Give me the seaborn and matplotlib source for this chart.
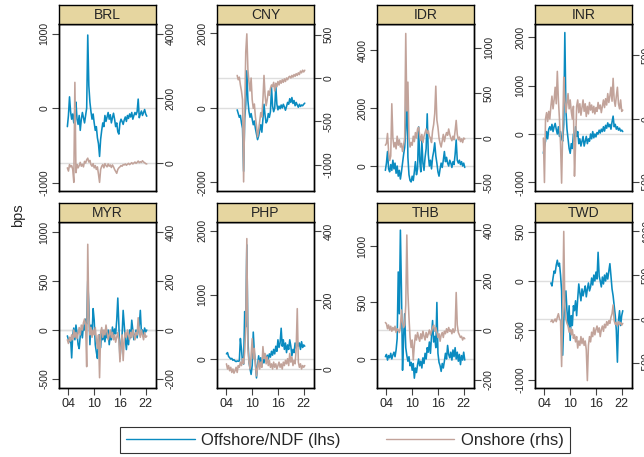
import numpy as np
import pandas as pd
import matplotlib
matplotlib.use("Agg")
import matplotlib.pyplot as plt
import matplotlib.transforms as mtransforms
from matplotlib.lines import Line2D
import seaborn as sns

sns.set_style("white")
plt.rcParams['font.family'] = ['Liberation Sans', 'DejaVu Sans']

# ---------------------------------------------------------------- data
currencies = ["BRL", "CNY", "IDR", "INR", "MYR", "PHP", "THB", "TWD"]
step = 0.25  # quarterly observations
first_obs = {"BRL": 2003.75, "CNY": 2006.5, "IDR": 2003.75, "INR": 2003.75,
             "MYR": 2003.75, "PHP": 2004.0, "THB": 2003.75, "TWD": 2005.5}

brl_offshore = [-250, -100, 150, -50, -150, -80, -200, -30, 80, -150, -220, -100,
                -300, -150, -60, -130, -200, -100, 0, 980, 300, 80, -50, -150,
                -80, -200, -300, -250, -400, -480, -650, -420, -300, -200, -250, -100,
                -180, -120, -60, -150, -90, -200, -130, -70, -150, -250, -200, -320,
                -350, -200, -150, -180, -220, -160, -120, -180, -100, -140, -80, -120,
                -60, -150, -100, -60, -90, -50, 120, -130, -80, -40, -100, -60,
                -20, -80, -110]
brl_onshore = [-150, -250, -50, -120, -80, -200, -600, 2500, -300, -50, -150, -80,
               20, -100, -40, -120, 50, 0, 100, 150, 30, 80, -50, -100,
               -20, -150, -80, -200, -120, -350, -600, -200, -100, -50, -150, -20,
               -80, -120, -30, -100, -60, -140, -60, -120, -200, -260, -320, -200,
               -150, -120, -80, -100, -50, -60, -30, -70, -40, -10, -50, -20,
               10, -30, 0, 30, -10, 20, 60, 10, 40, 20, 70, 30,
               10, -20, -30]

cny_offshore = [-50, -150, -250, -200, -400, -550, -1700, -300, 100, 1000, 200, -100,
                -250, -150, -300, -450, -350, -550, -700, -850, -750, -600, -450, -650,
                -300, 100, -200, -400, -350, -150, -250, -100, 550, 50, -100, 0,
                600, 100, -50, 50, -20, 80, 0, 100, 30, -60, 40, 150,
                100, 250, 150, 280, 120, 200, 60, 150, 80, 20, 100, 40,
                80, 60, 100, 130]
cny_onshore = [30, -20, 10, -80, -150, -250, -1200, -400, 300, 510, 100, -50,
               -150, 0, -250, -350, -300, -450, -550, -680, -600, -500, -400, -450,
               -250, 30, -200, -320, -250, -150, -200, -120, -80, -100, -50, -150,
               -60, -100, -40, -80, -30, -60, -20, -50, -10, -40, 0, -20,
               10, 20, 0, 30, 10, 40, 20, 50, 30, 60, 40, 80,
               60, 90, 70, 90]

idr_offshore = [-150, 100, 500, -100, -200, 50, -150, 200, -100, 100, -250, 0,
                -350, -150, -450, -200, 100, 400, 650, 1300, 2800, 300, -300, -500,
                -550, -350, -500, -200, 150, -300, -100, 1350, 200, -200, 900, 100,
                -150, 300, 600, 1800, 400, 0, 200, -100, 300, 500, 800, 350,
                100, -200, -350, -100, 100, -50, 200, 500, 150, 300, 100, 0,
                200, 100, -50, 150, 50, 400, 900, 200, 100, 200, 50, 150,
                0, 100, -50]
idr_onshore = [-80, -60, 50, -150, -250, -200, 380, 0, -100, -50, -120, 20,
               -80, -20, -100, -60, -150, -80, 0, 1160, 300, 620, 0, -100,
               -50, -80, 20, -40, 60, 0, 100, 120, 30, -30, 40, -50,
               20, 60, 100, 50, 80, 20, 0, -50, 80, 150, 270, 575,
               200, 120, 0, -60, -100, -30, 40, -40, 20, 60, 30, 100,
               40, 0, -30, 20, -20, 80, 195, 40, -20, 10, -40, -10,
               -50, 0, -10]

inr_offshore = [-400, -250, -150, 50, -100, 100, 150, 80, 200, 50, 150, 220,
                100, 0, 150, -50, 50, -100, -150, 200, 2100, 500, 100, -100,
                -300, -400, -200, -300, 0, -150, 150, -50, 50, -200, -100, -250,
                -150, -50, -250, -150, -50, -200, -100, -150, 0, -100, 50, -80,
                0, -60, 30, 0, 80, 20, 100, 50, 150, 60, 180, 120,
                230, 150, 200, 100, 250, 370, 150, 200, 100, 150, 80, 120,
                60, 80, 50]
inr_onshore = [-150, -500, 0, 50, -20, 60, 0, 100, 180, 80, 150, 250,
               120, 375, 150, 0, -200, -505, -100, 330, 150, 50, 120, 200,
               80, 150, 60, 0, 100, -450, -200, 100, 150, 50, 120, 30,
               90, 150, 60, 120, 20, 100, 40, 130, 70, 110, 50, 100,
               40, 90, 60, 130, 80, 110, 50, 100, 150, 90, 160, 110,
               200, 130, 180, 250, 140, 320, 150, 100, 180, 250, 120, 80,
               150, 60, 70]

myr_offshore = [-60, -100, -120, -80, -285, -50, 20, -100, 50, -30, -150, -190,
                -60, 0, -80, 50, 0, 110, 60, 500, 250, -150, 50, -50,
                218, 100, -150, -225, -290, -100, -50, -180, 0, -100, -30, -120,
                -20, -80, 0, -150, -50, -100, 30, -60, 10, -40, 100, 326,
                50, -290, -150, -50, 200, 50, -100, -200, -50, -150, 0, -80,
                100, 0, -100, -50, 0, -80, 0, 50, 200, -30, 0, -60,
                20, -20, 0]
myr_onshore = [-40, -55, -30, -45, -20, -40, 0, -30, -10, -35, -15, 10,
               -20, 20, 0, 30, 45, 20, -150, 350, 60, -20, 10, -30,
               0, -20, 10, -40, -75, -20, -195, -10, 10, -30, 0, -20,
               20, -10, -40, -20, 0, -30, -10, -40, -20, -50, -30, -10,
               -40, -130, -60, -20, -125, -40, -10, -30, 0, -20, -40, -10,
               -30, 0, -20, -40, -10, -20, 50, -10, -30, 0, -20, -40,
               -10, -30, -25]

php_offshore = [80, 100, 40, 20, 0, 10, -20, -10, -30, -40, -30, -35,
                -30, 320, 150, -50, -80, 740, 500, 1780, 300, -50, -150, -240,
                -100, 420, 100, -50, -295, -100, 50, -80, 20, -120, 0, -60,
                50, -20, 60, 0, 80, 30, 120, 60, 150, 80, 200, 120,
                300, 180, 250, 480, 200, 300, 150, 250, 100, 220, 150, 300,
                200, 50, 150, 100, 250, 170, 280, 200, 250, 150, 270, 180,
                220, 200]
php_onshore = [15, 0, 10, -5, 5, -10, 0, -12, -5, 5, -10, 10,
               5, 20, 10, 30, 15, 50, 120, 378, 60, 20, 0, 40,
               88, 30, 60, 10, -20, 5, 25, 0, 20, 5, 65, 30,
               45, 15, 35, 10, 25, 5, 15, 0, 20, 5, 15, 0,
               10, 20, 5, 15, 0, 20, 10, 25, 15, 30, 10, 45,
               20, 35, 10, 25, 15, 60, 175, 20, 5, 15, 0, 10,
               5, 10]

thb_offshore = [20, 40, -10, 30, 10, 50, 0, 35, 60, 20, 80, 180,
                770, 400, 1140, 600, -100, 200, 400, 100, 30, -20, 20, -60,
                -30, -100, -40, -170, -80, -120, -50, 0, -60, -20, -80, 10,
                -40, 50, 0, 100, 60, 150, 50, 200, 340, 150, 200, 100,
                500, 50, -30, -60, -110, -40, -80, -20, 50, 0, 120, 40,
                10, 60, -10, 80, 20, 100, 0, 60, -20, 40, -50, 30,
                -10, 60, -10]
thb_onshore = [30, 25, 5, 20, 0, 15, -5, 10, 0, 15, -10, 5,
               0, -10, 10, 80, 30, 10, 20, 100, 380, 150, 50, -30,
               -70, -40, -120, -60, -20, -40, -10, -30, -45, -15, -35, -5,
               -25, -40, -10, -30, -15, 0, -20, -5, 10, 20, -5, 10,
               -10, -30, -15, -45, -20, -10, -30, -5, -15, 5, -10, 10,
               -5, 0, -15, 5, -10, 0, 150, 20, -10, -20, -30, -25,
               -40, -30, -35]

twd_offshore = [-20, -50, 30, 100, 80, 160, 210, 150, 180, 60, -100, -750,
                -400, -200, -100, -300, -450, -250, -600, -350, -450, -250, -300, -200,
                -350, -180, -30, -120, -200, -80, -150, -100, -50, -160, -80, -20,
                -100, -60, 30, -40, 60, 0, 90, 20, 290, 50, 0, -60,
                40, -30, 60, 0, 80, 20, 100, 175, 50, -80, -150, -250,
                -350, -500, -820, -400, -300, -450, -350, -300]
twd_onshore = [-30, -10, -40, -20, 0, -30, 20, 60, 0, -20, -540, 100,
               995, 150, 0, -50, -80, -150, -100, -180, -120, -220, -180, -260,
               -200, -330, -250, -300, -200, -280, -220, -300, -250, -350, -700, -300,
               -200, -260, -150, -200, -100, -180, -120, -80, -150, -100, -200, -120,
               -80, -140, -60, -100, -30, -70, -20, -50, 20, 60, 160, -20,
               -60, -40, -80, -30, -60, -40, -70, -50]

offshore = {"BRL": brl_offshore, "CNY": cny_offshore, "IDR": idr_offshore,
            "INR": inr_offshore, "MYR": myr_offshore, "PHP": php_offshore,
            "THB": thb_offshore, "TWD": twd_offshore}
onshore = {"BRL": brl_onshore, "CNY": cny_onshore, "IDR": idr_onshore,
           "INR": inr_onshore, "MYR": myr_onshore, "PHP": php_onshore,
           "THB": thb_onshore, "TWD": twd_onshore}

# axis scales: left = offshore/NDF, right = onshore
left_ticks = {"BRL": [-1000, 0, 1000], "CNY": [-2000, 0, 2000],
              "IDR": [0, 2000, 4000], "INR": [-1000, 0, 1000, 2000],
              "MYR": [-500, 0, 500, 1000], "PHP": [0, 1000, 2000],
              "THB": [0, 500, 1000], "TWD": [-1000, -500, 0, 500]}
right_ticks = {"BRL": [0, 2000, 4000], "CNY": [-1000, -500, 0, 500],
               "IDR": [-500, 0, 500, 1000], "INR": [-500, 0, 500],
               "MYR": [-200, 0, 200, 400], "PHP": [0, 200, 400],
               "THB": [-200, 0, 200, 400], "TWD": [-500, 0, 500, 1000]}
left_lims = {"BRL": (-1114, 1128), "CNY": (-2229, 2255), "IDR": (-862, 4899),
             "INR": (-1180, 2277), "MYR": (-592, 1102), "PHP": (-452, 2137),
             "THB": (-257, 1212), "TWD": (-1081, 596)}
right_lims = {"BRL": (-868, 4309), "CNY": (-1305, 624), "IDR": (-588, 1265),
              "INR": (-567, 748), "MYR": (-237, 441), "PHP": (-55, 426),
              "THB": (-232, 432), "TWD": (-784, 1102)}
year_ticks = [2004, 2010, 2016, 2022]
year_labels = ["04", "10", "16", "22"]

# ---------------------------------------------------------------- style
BLUE = "#0a8bc0"
BROWN = "#c2a39a"
STRIP = "#e6d6a0"
ZERO = "#dedede"
TICK = "#444444"
LW = 1.15

W, H = 644, 457
fig = plt.figure(figsize=(W / 100, H / 100), dpi=100)
fig.patch.set_facecolor("white")

col_left = [59, 217, 377, 535]
panel_w = 97
rows = [(5, 24, 191), (203, 222, 388)]  # strip top, plot top, plot bottom


def px_axes(x0, y0, x1, y1):
    return fig.add_axes([x0 / W, 1 - y1 / H, (x1 - x0) / W, (y1 - y0) / H])


for i, cur in enumerate(currencies):
    r, c = divmod(i, 4)
    s_top, p_top, p_bot = rows[r]
    x0 = col_left[c]
    x1 = x0 + panel_w

    ax = px_axes(x0, p_top, x1, p_bot)
    ax2 = ax.twinx()

    off = np.asarray(offshore[cur], dtype=float)
    on = np.asarray(onshore[cur], dtype=float)
    df_off = pd.DataFrame({"year": first_obs[cur] + step * np.arange(len(off)), "bps": off})
    df_on = pd.DataFrame({"year": first_obs[cur] + step * np.arange(len(on)), "bps": on})

    ax.set_ylim(*left_lims[cur])
    ax2.set_ylim(*right_lims[cur])
    ax.set_xlim(2001.8, 2024.4)

    # zero reference lines for both scales, behind the series
    ax.axhline(0, color=ZERO, lw=1.0, zorder=0.5)
    ax.add_artist(Line2D([0, 1], [0, 0], color=ZERO, lw=1.0, zorder=0.5,
                         transform=mtransforms.blended_transform_factory(ax.transAxes, ax2.transData)))

    sns.lineplot(data=df_off, x="year", y="bps", ax=ax, color=BLUE, lw=LW,
                 legend=False, zorder=2)
    sns.lineplot(data=df_on, x="year", y="bps", ax=ax2, color=BROWN, lw=LW,
                 legend=False, zorder=2)
    ax.set_xlabel("")
    ax.set_ylabel("")
    ax2.set_ylabel("")
    ax.set_ylim(*left_lims[cur])
    ax2.set_ylim(*right_lims[cur])
    ax.set_xlim(2001.8, 2024.4)

    ax.set_yticks(left_ticks[cur], [f"{v:d}" for v in left_ticks[cur]],
                  rotation=90, va="center", fontsize=7.5)
    ax2.set_yticks(right_ticks[cur], [f"{v:d}" for v in right_ticks[cur]],
                   rotation=90, va="center", fontsize=7.5)
    ax.tick_params(axis="y", direction="out", length=5, width=0.8, color=TICK,
                   pad=2, left=True)
    ax2.tick_params(axis="y", direction="out", length=5, width=0.8, color=TICK,
                    pad=2, right=True)
    if r == 1:
        ax.set_xticks(year_ticks, year_labels, fontsize=9)
        ax.tick_params(axis="x", direction="out", length=5, width=0.8,
                       color=TICK, pad=2, bottom=True)
    else:
        ax.set_xticks([])

    for a in (ax, ax2):
        for sp in a.spines.values():
            sp.set_color("black")
            sp.set_linewidth(1.0)

    # panel title strip
    sax = px_axes(x0, s_top, x1, p_top)
    sax.set_facecolor(STRIP)
    sax.set_xticks([])
    sax.set_yticks([])
    for sp in sax.spines.values():
        sp.set_color("black")
        sp.set_linewidth(1.0)
    sax.text(0.5, 0.47, cur, ha="center", va="center", fontsize=10,
             transform=sax.transAxes)

fig.text(18 / W, 1 - 215 / H, "bps", rotation=90, ha="center", va="center",
         fontsize=10.5)

handles = [Line2D([], [], color=BLUE, lw=1.0), Line2D([], [], color=BROWN, lw=1.0)]
leg = fig.legend(handles, ["Offshore/NDF (lhs)", "Onshore (rhs)"],
                 loc="center", bbox_to_anchor=(345 / W, 17 / H), ncol=2,
                 frameon=True, fancybox=False, edgecolor="black", fontsize=12,
                 handlelength=4.1, handletextpad=0.4, columnspacing=2.7,
                 borderpad=0.35, borderaxespad=0)
leg.get_frame().set_linewidth(0.8)

fig.savefig("out.png", dpi=100, facecolor="white")
